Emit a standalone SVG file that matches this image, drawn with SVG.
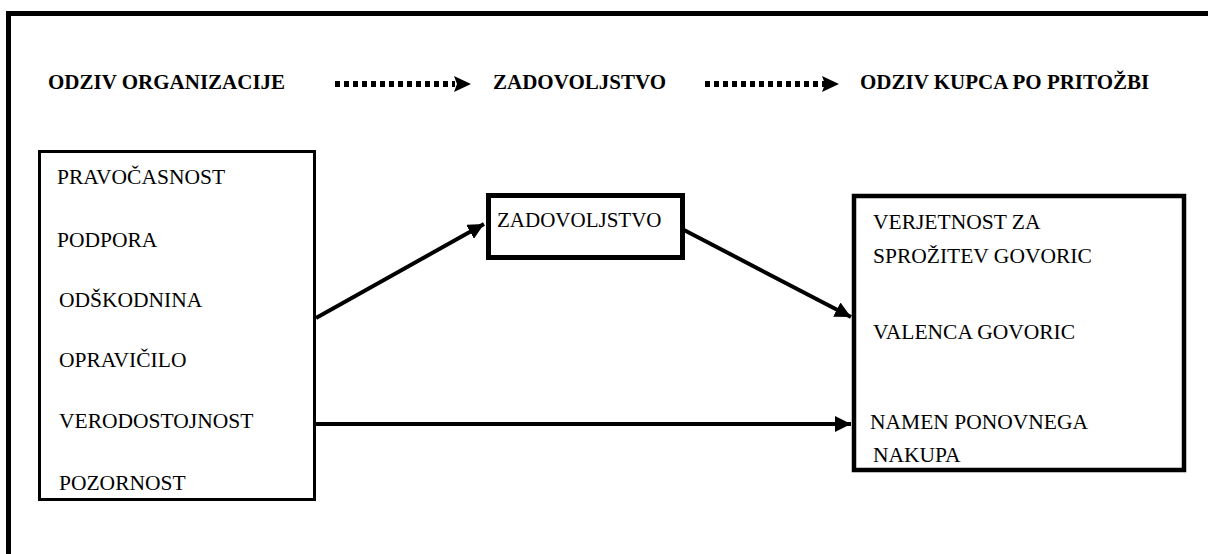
<svg xmlns="http://www.w3.org/2000/svg" width="1208" height="554" viewBox="0 0 1208 554">
<defs>
<marker id="ah" viewBox="0 0 10 10" refX="10" refY="5" markerWidth="4" markerHeight="4" markerUnits="strokeWidth" orient="auto">
<path d="M0,0 L10,5 L0,10 z" fill="#000"/>
</marker>
<path id="dotarrow" d="M0,0 H120" stroke="#000" stroke-width="6" stroke-dasharray="5 4" fill="none"/>
<path id="dothead" d="M0,-8 L17,0 L0,8 L3,0 z" fill="#000"/>
</defs>
<rect width="1208" height="554" fill="#fff"/>
<g id="frame">
<path d="M8.5,554 V13.5 H1208" fill="none" stroke="#000" stroke-width="5"/>
</g>
<g id="header" font-weight="bold" font-size="21">
<text x="48" y="89" style="font-family:'Liberation Serif',serif">ODZIV ORGANIZACIJE</text>
<use href="#dotarrow" x="335" y="84"/>
<use href="#dothead" x="454" y="84"/>
<text x="493" y="89" style="font-family:'Liberation Serif',serif">ZADOVOLJSTVO</text>
<use href="#dotarrow" x="705" y="84"/>
<use href="#dothead" x="822" y="84"/>
<text x="860" y="89" style="font-family:'Liberation Serif',serif">ODZIV KUPCA PO PRITOŽBI</text>
</g>
<g id="left" font-size="21.5">
<rect x="39.5" y="151.5" width="275" height="348" fill="none" stroke="#000" stroke-width="3"/>
<text x="57" y="184" style="font-family:'Liberation Serif',serif">PRAVOČASNOST</text>
<text x="57" y="247" style="font-family:'Liberation Serif',serif">PODPORA</text>
<text x="59" y="307" style="font-family:'Liberation Serif',serif">ODŠKODNINA</text>
<text x="59" y="367" style="font-family:'Liberation Serif',serif">OPRAVIČILO</text>
<text x="59" y="428" style="font-family:'Liberation Serif',serif">VERODOSTOJNOST</text>
<text x="59" y="490" style="font-family:'Liberation Serif',serif">POZORNOST</text>
</g>
<g id="middle" font-size="21">
<rect x="488.5" y="195.5" width="194" height="62" fill="none" stroke="#000" stroke-width="5"/>
<text x="497" y="227" style="font-family:'Liberation Serif',serif">ZADOVOLJSTVO</text>
</g>
<g id="right" font-size="21.5">
<rect x="854" y="196" width="330" height="274" fill="none" stroke="#000" stroke-width="4.5"/>
<text x="873" y="229" style="font-family:'Liberation Serif',serif">VERJETNOST ZA</text>
<text x="873" y="263" style="font-family:'Liberation Serif',serif">SPROŽITEV GOVORIC</text>
<text x="873" y="339" style="font-family:'Liberation Serif',serif">VALENCA GOVORIC</text>
<text x="870" y="429" style="font-family:'Liberation Serif',serif">NAMEN PONOVNEGA</text>
<text x="873" y="462" style="font-family:'Liberation Serif',serif">NAKUPA</text>
</g>
<g id="connectors" stroke="#000" stroke-width="4" fill="none">
<path d="M316,318 L484,224" marker-end="url(#ah)"/>
<path d="M684,230 L851,317" marker-end="url(#ah)"/>
<path d="M316,424 L851,424" marker-end="url(#ah)"/>
</g>
</svg>
